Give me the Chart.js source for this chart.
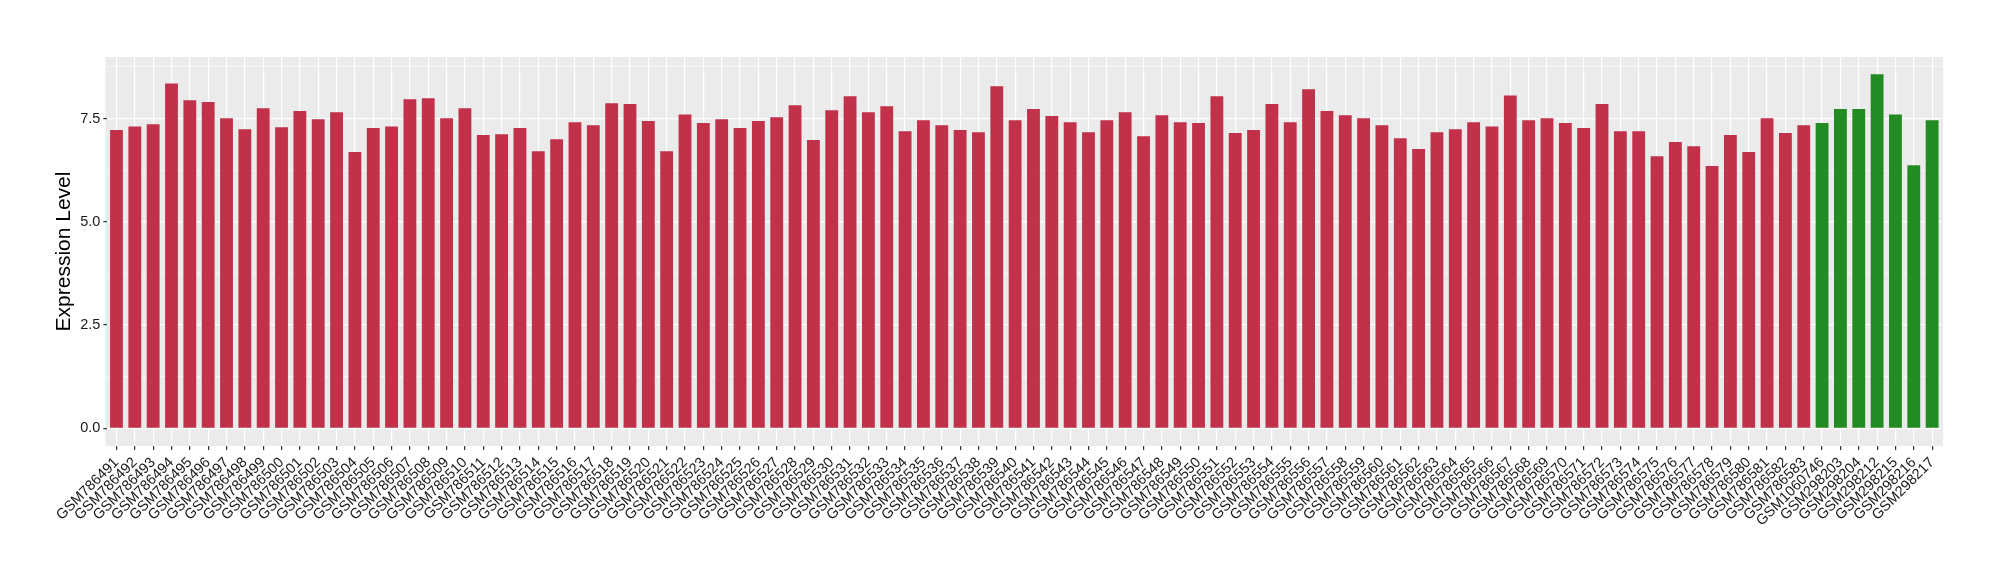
<!DOCTYPE html>
<html>
<head>
<meta charset="utf-8">
<script src="https://cdn.jsdelivr.net/npm/chart.js@4"></script>
<style>
  html, body { margin: 0; padding: 0; background: #fff; }
  #wrap { width: 2000px; height: 580px; }
</style>
</head>
<body>
<div id="wrap"><canvas id="exprChart"></canvas></div>
<script>
const samples = [
  'GSM786491','GSM786492','GSM786493','GSM786494','GSM786495','GSM786496','GSM786497','GSM786498','GSM786499','GSM786500',
  'GSM786501','GSM786502','GSM786503','GSM786504','GSM786505','GSM786506','GSM786507','GSM786508','GSM786509','GSM786510',
  'GSM786511','GSM786512','GSM786513','GSM786514','GSM786515','GSM786516','GSM786517','GSM786518','GSM786519','GSM786520',
  'GSM786521','GSM786522','GSM786523','GSM786524','GSM786525','GSM786526','GSM786527','GSM786528','GSM786529','GSM786530',
  'GSM786531','GSM786532','GSM786533','GSM786534','GSM786535','GSM786536','GSM786537','GSM786538','GSM786539','GSM786540',
  'GSM786541','GSM786542','GSM786543','GSM786544','GSM786545','GSM786546','GSM786547','GSM786548','GSM786549','GSM786550',
  'GSM786551','GSM786552','GSM786553','GSM786554','GSM786555','GSM786556','GSM786557','GSM786558','GSM786559','GSM786560',
  'GSM786561','GSM786562','GSM786563','GSM786564','GSM786565','GSM786566','GSM786567','GSM786568','GSM786569','GSM786570',
  'GSM786571','GSM786572','GSM786573','GSM786574','GSM786575','GSM786576','GSM786577','GSM786578','GSM786579','GSM786580',
  'GSM786581','GSM786582','GSM786583',
  'GSM1060746','GSM298203','GSM298204','GSM298212','GSM298215','GSM298216','GSM298217'
];

const expression = [
  7.22, 7.31, 7.36, 8.35, 7.94, 7.90, 7.51, 7.24, 7.75, 7.29,
  7.68, 7.48, 7.65, 6.69, 7.27, 7.31, 7.97, 7.99, 7.51, 7.75,
  7.10, 7.12, 7.27, 6.71, 7.00, 7.41, 7.34, 7.87, 7.85, 7.44,
  6.71, 7.60, 7.39, 7.48, 7.27, 7.44, 7.53, 7.82, 6.98, 7.70,
  8.04, 7.65, 7.80, 7.19, 7.46, 7.34, 7.22, 7.17, 8.28, 7.46,
  7.73, 7.56, 7.41, 7.17, 7.46, 7.65, 7.07, 7.58, 7.41, 7.39,
  8.04, 7.15, 7.22, 7.85, 7.41, 8.21, 7.68, 7.58, 7.51, 7.34,
  7.02, 6.76, 7.17, 7.24, 7.41, 7.31, 8.06, 7.46, 7.51, 7.39,
  7.27, 7.85, 7.19, 7.19, 6.59, 6.93, 6.83, 6.35, 7.10, 6.69,
  7.51, 7.15, 7.34,
  7.39, 7.73, 7.73, 8.57, 7.60, 6.37, 7.46
];

// samples drawn in green, everything else red
const controlSamples = ['GSM1060746','GSM298203','GSM298204','GSM298212','GSM298215','GSM298216','GSM298217'];

const yMajor = [0, 2.5, 5, 7.5];
const yMinorTicks = [1.25, 3.75, 6.25, 8.75];

const RED = '#C1314A';
const GREEN = '#228B22';
const TEXT = '#1A1A1A';
const tickFont = { family: "'Liberation Sans', Arial, sans-serif", size: 14.5 };

// grey ggplot panel, a bit wider than the chart area (ggplot pads 0.6 of a category)
const panelBg = {
  id: 'panelBg',
  beforeDraw(chart) {
    const { ctx, chartArea } = chart;
    const ext = (chartArea.right - chartArea.left) / samples.length * 0.1;
    ctx.save();
    ctx.fillStyle = '#EBEBEB';
    ctx.fillRect(chartArea.left - ext, chartArea.top, chartArea.right - chartArea.left + 2 * ext, chartArea.bottom - chartArea.top);
    ctx.restore();
  }
};

const isMajor = v => yMajor.includes(v);

new Chart(document.getElementById('exprChart'), {
  type: 'bar',
  data: {
    labels: samples,
    datasets: [{
      data: expression,
      backgroundColor: samples.map(s => controlSamples.includes(s) ? GREEN : RED),
      barPercentage: 0.7,
      categoryPercentage: 1.0
    }]
  },
  options: {
    responsive: true,
    maintainAspectRatio: false,
    animation: false,
    devicePixelRatio: 1,
    layout: { padding: { top: 57, right: 58.7, bottom: 0, left: 0 } },
    plugins: { legend: { display: false }, tooltip: { enabled: false } },
    scales: {
      x: {
        offset: true,
        grid: { offset: false, color: '#FFFFFF', lineWidth: 1.2, tickLength: 4, tickColor: '#333333' },
        border: { display: false },
        ticks: {
          autoSkip: false, maxRotation: 45, minRotation: 45,
          color: TEXT, font: tickFont, padding: 4
        },
        afterFit(scale) { scale.height = 134; }
      },
      y: {
        min: -0.428,
        max: 8.99,
        afterBuildTicks(scale) {
          scale.ticks = yMajor.concat(yMinorTicks).sort((a, b) => a - b).map(v => ({ value: v }));
        },
        grid: {
          color: '#FFFFFF',
          lineWidth: c => (c.tick && isMajor(c.tick.value)) ? 1.2 : 0.6,
          tickColor: c => (c.tick && isMajor(c.tick.value)) ? '#333333' : 'rgba(0,0,0,0)',
          tickLength: 4
        },
        border: { display: false },
        ticks: {
          color: TEXT, font: tickFont, padding: 3,
          callback: v => isMajor(v) ? v.toFixed(1) : ''
        },
        title: {
          display: true, text: 'Expression Level', color: '#000000',
          font: { family: "'Liberation Sans', Arial, sans-serif", size: 21 },
          padding: { top: 52, bottom: 0 }
        },
        afterFit(scale) { scale.width = 107.3; }
      }
    }
  },
  plugins: [panelBg]
});
</script>
</body>
</html>
